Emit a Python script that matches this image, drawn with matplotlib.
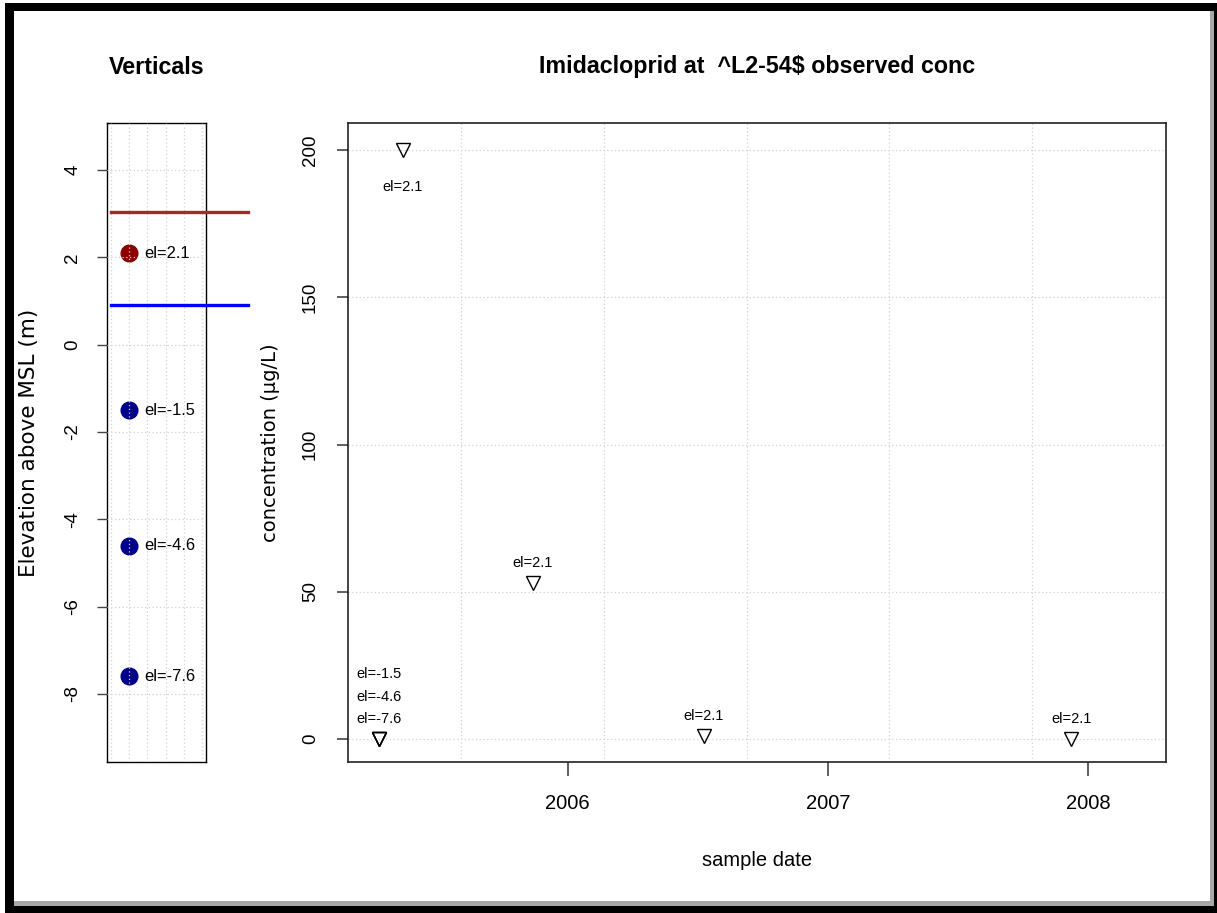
import datetime as dt
import matplotlib
matplotlib.use("Agg")
import matplotlib.pyplot as plt
import matplotlib.dates as mdates
from matplotlib import font_manager
from matplotlib.patches import Rectangle

# ---------------- data ----------------
left_title = "Verticals"
main_title = "Imidacloprid at  ^L2-54\\$ observed conc"
left_ylabel = "Elevation above MSL (m)"
right_ylabel = "concentration (\u00b5g/L)"
right_xlabel = "sample date"

vert_elev = [2.1, -1.5, -4.6, -7.6]
vert_colors = ["#8B0000", "#00008B", "#00008B", "#00008B"]
vert_labels = ["el=2.1", "el=-1.5", "el=-4.6", "el=-7.6"]
red_line_elev = 3.05
blue_line_elev = 0.9
left_yticks = [4, 2, 0, -2, -4, -6, -8]
left_xgrid = [0, 1, 2, 3, 4, 5]

sample_dates = ["2005-04-11", "2005-04-11", "2005-04-11", "2005-05-15",
                "2005-11-13", "2006-07-11", "2007-12-08"]
sample_conc = [0, 0, 0, 200, 53, 1, 0]
sample_elev = [-1.5, -4.6, -7.6, 2.1, 2.1, 2.1, 2.1]

right_yticks = [0, 50, 100, 150, 200]
year_ticks = ["2006-01-01", "2007-01-01", "2008-01-01"]
year_labels = ["2006", "2007", "2008"]
grid_days = [13000, 13200, 13400, 13600, 13800]   # days since 1970-01-01
date_limits = ["2005-02-27", "2008-04-19"]

# ---------------- fonts ----------------
names = {f.name for f in font_manager.fontManager.ttflist}
if "Liberation Sans Narrow" in names:
    NARROW, NS = "Liberation Sans Narrow", 1.0
else:
    NARROW, NS = "Liberation Sans", 0.88
REG = "Liberation Sans"

W, H = 1217, 913
fig = plt.figure(figsize=(W / 100, H / 100), dpi=100)
fig.patch.set_facecolor("white")


def fx(px):
    return px / W


def fy(py):
    return 1 - py / H


# frame around the figure
def prect(x0, y0, x1, y1, color):
    fig.add_artist(Rectangle((fx(x0), fy(y1)), fx(x1 - x0), (y1 - y0) / H,
                             transform=fig.transFigure, facecolor=color,
                             edgecolor="none", zorder=10))

prect(5, 3, 1217, 11, "black")
prect(5, 3, 14, 913, "black")
prect(14, 901, 1213, 906, "#A8A8A8")
prect(1210, 11, 1214, 906, "#A8A8A8")
prect(5, 906, 1217, 913, "black")
prect(1214, 3, 1217, 913, "black")

to_num = lambda s: mdates.date2num(dt.datetime.strptime(s, "%Y-%m-%d"))

# ---------------- left panel ----------------
ax1 = fig.add_axes([fx(107), fy(762), fx(206 - 107), (762 - 123) / H])
ax1.set_xlim(-0.2, 5.2)
ax1.set_ylim(-9.56, 5.08)
for xg in left_xgrid:
    ax1.axvline(xg, color="#D3D3D3", lw=0.9, ls=(0, (1, 2)), zorder=3)
for yg in left_yticks:
    ax1.axhline(yg, color="#D3D3D3", lw=0.9, ls=(0, (1, 2)), zorder=3)
ax1.plot([0, 7.5], [red_line_elev] * 2, color="#A52A2A", lw=2.4,
         clip_on=False, zorder=5)
ax1.plot([0, 7.5], [blue_line_elev] * 2, color="#0000FF", lw=2.4,
         clip_on=False, zorder=5)
for e, c, lab in zip(vert_elev, vert_colors, vert_labels):
    ax1.plot([1], [e], "o", ms=12, color=c, zorder=2)
    ax1.annotate(lab, (1, e), xytext=(15, 0), textcoords="offset pixels",
                 ha="left", va="center", fontsize=13.5 * NS, family=NARROW,
                 zorder=6)
ax1.set_xticks([])
ax1.set_yticks(left_yticks)
ax1.set_yticklabels([str(t) for t in left_yticks], rotation=90, va="center",
                    family=REG, fontsize=13.5)
ax1.tick_params(axis="y", length=7.5, width=1, color="#444444", pad=11)
for s in ax1.spines.values():
    s.set_linewidth(1.0)
    s.set_color("black")
ax1.set_ylabel(left_ylabel, family="DejaVu Sans", fontsize=15.5)
ax1.yaxis.set_label_coords((29 - 107) / 99, 0.5)
ax1.yaxis.label.set_va("center")

# ---------------- right panel ----------------
ax2 = fig.add_axes([fx(348), fy(762), fx(1166 - 348), (762 - 123) / H])
ax2.set_xlim(to_num(date_limits[0]), to_num(date_limits[1]))
ax2.set_ylim(-7.8, 209.2)
for g in grid_days:
    ax2.axvline(g, color="#D3D3D3", lw=0.9, ls=(0, (1, 2)), zorder=1)
for yg in right_yticks:
    ax2.axhline(yg, color="#D3D3D3", lw=0.9, ls=(0, (1, 2)), zorder=1)

xs = [to_num(d) for d in sample_dates]
ax2.plot(xs, sample_conc, "v", ms=9.5, mfc="none", mec="black", mew=1.0,
         ls="none", zorder=3)

counts = {}
for x, c in zip(xs, sample_conc):
    counts[(x, c)] = counts.get((x, c), 0) + 1
seen = {}
for x, c, e in zip(xs, sample_conc, sample_elev):
    key = (x, c)
    k = seen.get(key, 0)
    seen[key] = k + 1
    if c > 0.9 * 209.2:
        off = -37
    else:
        off = 20 + 22.5 * (counts[key] - 1 - k)
    ax2.annotate("el=%g" % e, (x, c), xytext=(0, off), textcoords="offset pixels",
                 ha="center", va="center", fontsize=12 * NS, family=NARROW)

ax2.set_xticks([to_num(d) for d in year_ticks])
ax2.set_xticklabels(year_labels, family=NARROW, fontsize=16.5 * NS)
ax2.set_yticks(right_yticks)
ax2.set_yticklabels([str(t) for t in right_yticks], rotation=90, va="center",
                    family=REG, fontsize=13.5)
ax2.tick_params(axis="x", length=10, width=1.2, color="#444444", pad=13)
ax2.tick_params(axis="y", length=8, width=1.2, color="#444444", pad=13)
for s in ax2.spines.values():
    s.set_linewidth(1.2)
    s.set_color("#222222")

ax2.set_xlabel(right_xlabel, family=NARROW, fontsize=16.5 * NS)
ax2.xaxis.set_label_coords(0.5, (762 - 860) / 639)
ax2.xaxis.label.set_va("center")
ax2.set_ylabel(right_ylabel, family="DejaVu Sans", fontsize=14)
ax2.yaxis.set_label_coords((270 - 348) / 818, 0.5)
ax2.yaxis.label.set_va("center")

# titles
fig.text(fx(156.5), fy(67), left_title, ha="center", va="center",
         family=NARROW, weight="bold", fontsize=19 * NS)
fig.text(fx(757), fy(67), main_title, ha="center", va="center",
         family=NARROW, weight="bold", fontsize=19 * NS)

fig.savefig("out.png", dpi=100, facecolor="white")
